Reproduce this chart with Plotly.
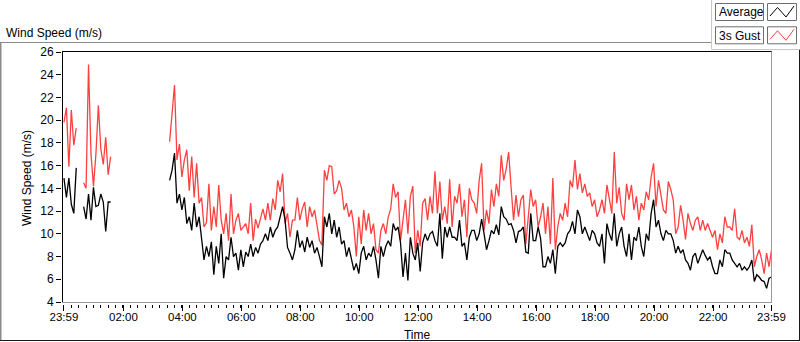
import plotly.graph_objects as go
from datetime import datetime, timedelta

# ---------------- data ----------------
SAMPLE_MINUTES = 5
START = datetime(2024, 1, 1, 23, 59)

gust_seg1 = [19.8, 21.1, 15.9, 20.9, 17.8, 19.3, None, None, 14.5, 14.0,
             24.9, 17.0, 14.2, 17.0, 21.3, 17.5, 16.1, 18.5, 15.2, 16.8]
avg_seg1 = [14.9, 13.2, 14.9, 12.6, 11.8, 15.8, None, None, 12.4, 11.3,
            13.5, 11.2, 14.1, 12.4, 12.5, 13.5, 12.8, 10.2, 12.8, 12.8]
no_data = [None] * 23

gust_a = [18.1, 20.9, 23.1, 16.5, 17.9, 15.0, 16.5, 17.4, 13.8, 16.8,
          13.2, 16.2, 12.7, 13.2, 10.6, 11.0, 14.4, 10.3, 12.4, 10.6,
          14.3, 11.2, 10.0, 11.8, 9.4, 13.5, 10.0, 11.2, 11.8, 10.3,
          10.6, 10.9, 10.0, 12.7, 9.4, 11.3, 10.5, 11.5, 12.2, 11.2,
          12.7, 11.2, 13.1, 12.1, 14.7, 13.7, 15.3, 10.9, 11.8, 9.7,
          11.2, 11.2, 13.2, 11.2, 12.2, 12.8, 10.6, 12.4, 11.5, 12.1,
          10.6, 9.4, 9.0, 15.6, 14.7, 16.0, 15.9, 13.5, 13.8, 14.7,
          14.0, 12.1, 12.7, 11.5, 12.1, 10.6, 8.0, 11.5, 9.1, 12.1,
          10.3, 11.8, 10.0, 10.9, 8.6, 8.3, 10.3, 10.9, 10.0, 11.5,
          12.2, 14.4, 13.2, 13.7]
gust_b = [9.4, 11.5, 13.0, 10.0, 13.3, 14.2, 8.3, 10.3, 8.9, 12.7,
          13.1, 11.2, 13.3, 11.8, 15.5, 11.8, 14.6, 11.2, 12.4, 10.9,
          14.8, 10.6, 13.3, 12.7, 14.4, 11.5, 13.0, 9.7, 14.0, 13.0,
          12.7, 11.8, 14.7, 16.2, 10.3, 12.1, 10.9, 13.9, 12.4, 14.4,
          13.3, 16.9, 14.7, 15.7, 17.2, 14.1, 11.2, 13.4, 11.5, 13.0,
          13.4, 9.1, 11.2, 13.9, 12.4, 13.0, 10.6, 11.5, 12.7, 10.0,
          12.4, 9.1, 14.9, 8.6, 10.6, 11.8, 11.2, 12.7, 11.5, 14.7,
          14.1, 16.5, 13.9, 15.3, 13.6, 14.4, 13.3, 13.6, 12.4, 13.0,
          11.5, 12.1]
gust_c = [13.0, 11.8, 14.3, 13.0, 11.8, 17.2, 12.7, 14.1, 11.8, 11.2,
          14.4, 13.0, 14.3, 12.1, 13.3, 11.2, 12.7, 12.1, 13.7, 13.0,
          15.0, 16.2, 12.4, 14.7, 13.3, 12.1, 11.8, 14.6, 13.9, 13.0,
          10.0, 10.6, 12.5, 11.2, 9.5, 11.8, 10.9, 10.3, 11.2, 11.5,
          10.3, 11.2, 10.3, 10.9, 10.3, 9.7, 10.3, 8.6, 10.0, 9.2,
          11.5, 10.6, 10.6, 10.3, 12.2, 9.7, 9.5, 10.3, 9.2, 9.7,
          8.9, 10.8, 7.1, 8.0, 8.6, 7.7, 6.5, 8.3, 7.1, 8.6]

avg_a = [14.7, 15.6, 17.1, 12.7, 13.5, 12.1, 13.2, 10.9, 11.5, 10.3,
         12.7, 10.6, 11.5, 9.4, 7.7, 8.9, 8.0, 9.3, 6.4, 8.9,
         7.4, 10.0, 6.1, 8.0, 7.7, 9.7, 8.0, 8.3, 6.8, 8.6,
         7.1, 8.4, 8.0, 9.1, 8.0, 8.8, 8.3, 9.1, 9.4, 10.0,
         9.4, 10.6, 9.7, 10.3, 10.6, 11.5, 12.4, 11.2, 8.8, 8.3,
         7.7, 8.6, 10.3, 8.8, 9.4, 8.4, 9.7, 8.8, 9.4, 8.3,
         8.8, 8.0, 7.1, 11.5, 10.6, 11.8, 10.0, 11.2, 9.7, 10.6,
         9.1, 9.4, 8.0, 8.8, 7.7, 6.8, 7.4, 6.5, 8.3, 8.9,
         7.7, 8.3, 8.0, 8.9, 7.7, 6.1, 8.9, 8.0, 8.9, 9.4,
         8.9, 10.9, 10.3, 10.6]
avg_b = [9.2, 6.2, 8.3, 5.9, 9.7, 8.3, 7.7, 9.2, 6.7, 9.2,
         10.0, 9.4, 10.0, 10.2, 9.4, 8.9, 11.8, 7.8, 10.6, 9.7,
         10.6, 9.7, 9.7, 9.4, 11.2, 8.9, 9.2, 7.7, 9.7, 10.3,
         10.3, 9.4, 10.0, 11.3, 10.0, 8.6, 9.4, 10.3, 10.0, 10.8,
         9.9, 12.4, 11.5, 11.3, 10.8, 10.9, 10.3, 9.2, 10.2, 10.3,
         10.6, 8.4, 8.3, 11.8, 9.4, 9.4, 10.6, 9.6, 7.1, 7.1,
         8.0, 7.4, 8.6, 6.5, 8.9, 9.2, 8.9, 9.2, 10.0, 10.3,
         11.1, 10.0, 12.1, 11.5, 10.0, 10.6, 10.0, 9.4, 10.3, 10.0,
         9.2, 8.9]
avg_c = [10.0, 7.4, 10.9, 10.0, 9.4, 11.8, 8.9, 10.0, 10.6, 8.9,
         8.0, 10.0, 7.7, 9.7, 9.4, 10.6, 8.9, 8.0, 10.0, 9.4,
         11.8, 13.0, 10.6, 11.2, 10.0, 9.4, 10.3, 10.0, 10.0, 9.4,
         8.3, 8.9, 8.3, 8.6, 7.7, 7.4, 6.8, 8.0, 8.3, 7.4,
         8.0, 8.6, 8.1, 7.7, 8.0, 7.1, 6.5, 6.5, 7.7, 7.1,
         8.6, 8.3, 8.3, 7.7, 7.4, 7.1, 7.4, 6.8, 7.1, 6.8,
         7.1, 7.7, 5.8, 6.4, 6.2, 5.9, 5.8, 5.2, 6.1, 6.2]

gust = gust_seg1 + no_data + gust_a + gust_b + gust_c
average = avg_seg1 + no_data + avg_a + avg_b + avg_c
assert len(gust) == len(average) == 289

time = [START + timedelta(minutes=SAMPLE_MINUTES * i) for i in range(len(gust))]

tick_labels = ["23:59", "02:00", "04:00", "06:00", "08:00", "10:00", "12:00",
               "14:00", "16:00", "18:00", "20:00", "22:00", "23:59"]
tick_times = ([START] + [datetime(2024, 1, 2, h, 0) for h in range(2, 23, 2)]
              + [START + timedelta(days=1)])
y_ticks = list(range(4, 27, 2))

# ---------------- layout helpers ----------------
W, H = 800, 342
L, R, T, B = 62, 28, 52, 38
PW, PH = W - L - R, H - T - B


def px(x):
    return (x - L) / PW


def py(y):
    return (H - B - y) / PH


FONT = "Liberation Sans, Arial, sans-serif"
RED = "#ff4040"

fig = go.Figure()
fig.add_trace(go.Scatter(x=time, y=gust, mode="lines", name="3s Gust",
                         line=dict(color=RED, width=1.3), connectgaps=False))
fig.add_trace(go.Scatter(x=time, y=average, mode="lines", name="Average",
                         line=dict(color="black", width=1.3), connectgaps=False))


def line(x0, y0, x1, y1, color, width=1):
    return dict(type="line", xref="paper", yref="paper",
                x0=px(x0), y0=py(y0), x1=px(x1), y1=py(y1),
                line=dict(color=color, width=width), layer="above")


shapes = [
    # outer panel
    line(0, 42.5, 711.5, 42.5, "#8c8c8c"),
    line(0.75, 42.5, 0.75, 340.5, "#8c8c8c", 1.5),
    line(0, 340.5, 800, 340.5, "#1a1a1a"),
    line(799.5, 49.5, 799.5, 341, "#1a1a1a"),
    # legend container
    line(711.5, 0, 711.5, 49.5, "#c8c8c8"),
    line(711.5, 49.5, 799.5, 49.5, "#c8c8c8"),
    # plot frame
    line(62, 51.5, 772, 51.5, "black"),
    line(62.5, 51.5, 62.5, 302.5, "black"),
    line(771.5, 51.5, 771.5, 302.5, "#999999"),
    line(62, 302.5, 772, 302.5, "#999999"),
]

# legend boxes
for row, (label, color) in enumerate([("Average", "black"), ("3s Gust", RED)]):
    dy = row * 23.3
    shapes.append(dict(type="rect", xref="paper", yref="paper",
                       x0=px(715.5), x1=px(763.5), y0=py(3.5 + dy), y1=py(20.5 + dy),
                       line=dict(color="#6e6e6e", width=1), fillcolor="white"))
    shapes.append(dict(type="rect", xref="paper", yref="paper",
                       x0=px(767.5), x1=px(796.5), y0=py(3.5 + dy), y1=py(20.5 + dy),
                       line=dict(color="#6e6e6e", width=1), fillcolor="white"))
    pts = [(770, 16 + dy), (777.5, 7.5 + dy), (786, 17 + dy), (794, 6 + dy)]
    path = "M " + " L ".join(f"{px(a):.5f},{py(b):.5f}" for a, b in pts)
    shapes.append(dict(type="path", xref="paper", yref="paper", path=path,
                       line=dict(color=color, width=1)))

annotations = [
    dict(text="Wind Speed (m/s)", xref="paper", yref="paper", x=px(4), y=py(32.5),
         xanchor="left", yanchor="middle", showarrow=False,
         font=dict(family=FONT, size=12, color="black")),
    dict(text="Average", xref="paper", yref="paper", x=px(717), y=py(12.5),
         xanchor="left", yanchor="middle", showarrow=False,
         font=dict(family=FONT, size=12, color="black")),
    dict(text="3s Gust", xref="paper", yref="paper", x=px(717), y=py(35.5),
         xanchor="left", yanchor="middle", showarrow=False,
         font=dict(family=FONT, size=12, color="black")),
]

fig.update_layout(
    width=W, height=H, autosize=False,
    margin=dict(l=L, r=R, t=T, b=B, pad=0, autoexpand=False),
    paper_bgcolor="white", plot_bgcolor="white",
    showlegend=False,
    font=dict(family=FONT, size=11, color="black"),
    shapes=shapes, annotations=annotations,
    xaxis=dict(
        type="date", automargin=False,
        range=[START - timedelta(minutes=4), START + timedelta(minutes=1441)],
        tickmode="array", tickvals=tick_times, ticktext=tick_labels,
        ticks="outside", ticklen=6, tickwidth=1, tickcolor="black",
        ticklabelstandoff=-4,
        tickfont=dict(family=FONT, size=11.5, color="black"),
        showgrid=False, zeroline=False, showline=False,
        minor=dict(ticks="outside", ticklen=3, tickwidth=1, tickcolor="black",
                   tick0=START, dtick=15 * 60 * 1000, showgrid=False),
        title=dict(text="Time", standoff=8,
                   font=dict(family=FONT, size=12, color="black")),
    ),
    yaxis=dict(
        automargin=False,
        range=[3.824, 26],
        tickmode="array", tickvals=y_ticks,
        ticks="outside", ticklen=5, tickwidth=1, tickcolor="black",
        tickfont=dict(family=FONT, size=12, color="black"),
        showgrid=False, zeroline=False, showline=False,
        title=dict(text="Wind Speed (m/s)", standoff=6,
                   font=dict(family=FONT, size=12, color="black")),
    ),
)

fig.write_html(
    "out.html",
    config={"displayModeBar": False},
    post_script="document.body.style.margin='0';document.body.style.overflow='hidden';",
)
